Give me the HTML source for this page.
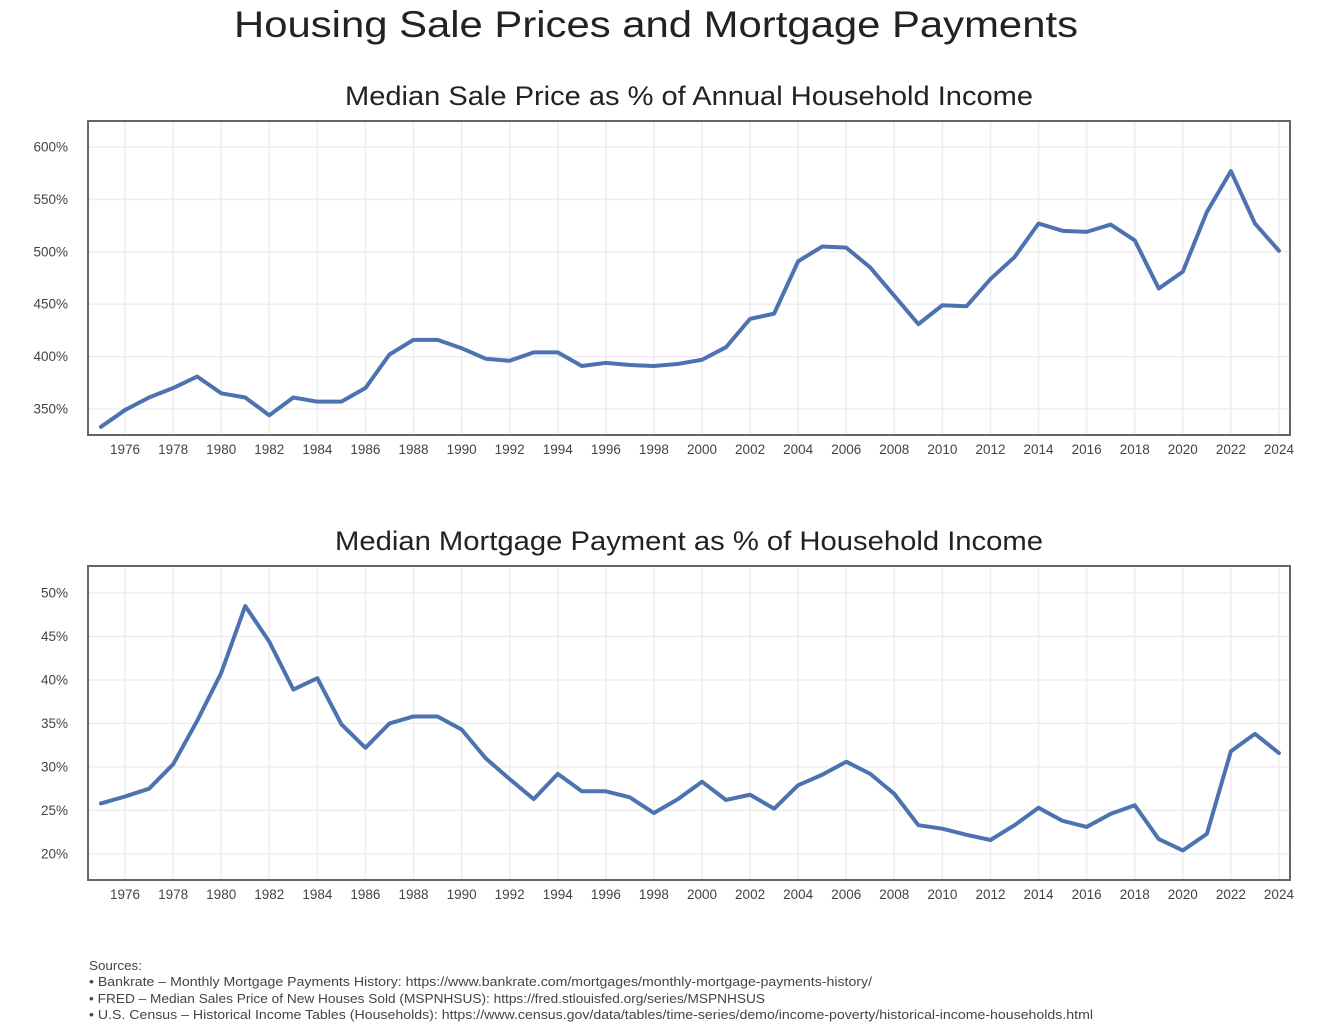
<!DOCTYPE html>
<html><head><meta charset="utf-8"><style>
body{margin:0;background:#fff;width:1324px;height:1024px;overflow:hidden;font-family:"Liberation Sans",sans-serif}
</style></head><body>
<svg id="s" width="1324" height="1024" xmlns="http://www.w3.org/2000/svg" font-family="Liberation Sans, sans-serif">
<text x="234" y="37" font-size="37" textLength="844" lengthAdjust="spacingAndGlyphs" fill="#222">Housing Sale Prices and Mortgage Payments</text>
<g id="c1"></g>
<g id="c2"></g>
<g font-size="12.5" fill="#444">
<text x="89" y="970" textLength="53" lengthAdjust="spacingAndGlyphs">Sources:</text>
<text x="89" y="986" textLength="783" lengthAdjust="spacingAndGlyphs">• Bankrate – Monthly Mortgage Payments History: https://www.bankrate.com/mortgages/monthly-mortgage-payments-history/</text>
<text x="89" y="1003" textLength="676" lengthAdjust="spacingAndGlyphs">• FRED – Median Sales Price of New Houses Sold (MSPNHSUS): https://fred.stlouisfed.org/series/MSPNHSUS</text>
<text x="89" y="1019" textLength="1004" lengthAdjust="spacingAndGlyphs">• U.S. Census – Historical Income Tables (Households): https://www.census.gov/data/tables/time-series/demo/income-poverty/historical-income-households.html</text>
</g>
</svg>
<script>
const years=[];for(let y=1975;y<=2024;y++)years.push(y);
const saleValues=[333,349,361,370,381,365,361,344,361,357,357,370,402,416,416,408,398,396,404,404,391,394,392,391,393,397,409,436,441,491,505,504,485,458,431,449,448,474,495,527,520,519,526,511,465,481,538,577,527,501];
const mortgageValues=[25.8,26.6,27.5,30.3,35.3,40.8,48.5,44.4,38.9,40.2,34.9,32.2,35.0,35.8,35.8,34.3,31.0,28.6,26.3,29.2,27.2,27.2,26.5,24.7,26.3,28.3,26.2,26.8,25.2,27.9,29.1,30.6,29.2,26.9,23.3,22.9,22.2,21.6,23.3,25.3,23.8,23.1,24.6,25.6,21.7,20.4,22.3,31.8,33.8,31.6];
const xTickYears=[1976,1978,1980,1982,1984,1986,1988,1990,1992,1994,1996,1998,2000,2002,2004,2006,2008,2010,2012,2014,2016,2018,2020,2022,2024];
const saleTicks=[350,400,450,500,550,600];
const mortgageTicks=[20,25,30,35,40,45,50];
const NS="http://www.w3.org/2000/svg";
function mk(p,tag,a){const e=document.createElementNS(NS,tag);for(const k in a)e.setAttribute(k,a[k]);p.appendChild(e);return e;}
function chart(g,top,title,tlen,vals,ticks,ymin,ymax,name){
  const L=88,R=1290,T=top,B=top+314;
  const x=v=>101+(v-1975)*24.04;
  const y=v=>B-(v-ymin)/(ymax-ymin)*(B-T);
  const t=mk(g,'text',{x:689-tlen/2,y:T-16,'font-size':27,textLength:tlen,lengthAdjust:'spacingAndGlyphs',fill:'#222'});t.textContent=title;
  
  
  xTickYears.forEach(v=>{const l=mk(g,'line',{x1:x(v),x2:x(v),y1:T,y2:B,stroke:'#ededed','stroke-width':1.5});
    
    
    const tx=mk(g,'text',{x:x(v),y:B+19,'font-size':13.5,'text-anchor':'middle',fill:'#444'});tx.textContent=v;
    
    });
  ticks.forEach(v=>{const l=mk(g,'line',{x1:L,x2:R,y1:y(v),y2:y(v),stroke:'#ededed','stroke-width':1.5});
    
    
    const tx=mk(g,'text',{x:68,y:y(v)+4.5,'font-size':13.5,'text-anchor':'end',fill:'#444'});tx.textContent=v+'%';
    
    });
  const p=mk(g,'polyline',{points:vals.map((v,i)=>x(years[i])+','+y(v)).join(' '),fill:'none',stroke:'#4c72b0','stroke-width':4,'stroke-linejoin':'round','stroke-linecap':'round'});
  
  
  const f=mk(g,'rect',{x:L,y:T,width:R-L,height:B-T,fill:'none',stroke:'#666','stroke-width':2});
  
  
}
chart(document.getElementById('c1'),121,'Median Sale Price as % of Annual Household Income',688,saleValues,saleTicks,325.2,624.8,'sale-price-line');
chart(document.getElementById('c2'),566,'Median Mortgage Payment as % of Household Income',708,mortgageValues,mortgageTicks,17.0,53.1,'mortgage-payment-line');
</script>
</body></html>
